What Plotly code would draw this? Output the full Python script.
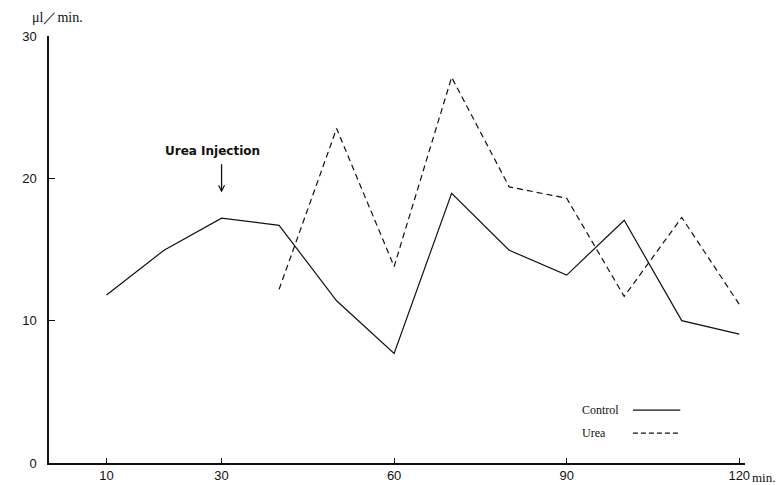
import plotly.graph_objects as go

minutes_control = [10, 20, 30, 40, 50, 60, 70, 80, 90, 100, 110, 120]
control = [11.8, 14.95, 17.2, 16.7, 11.4, 7.7, 18.95, 14.95, 13.2, 17.05, 10.0, 9.05]

minutes_urea = [40, 50, 60, 70, 80, 90, 100, 110, 120]
urea = [12.2, 23.5, 13.8, 27.1, 19.4, 18.6, 11.7, 17.25, 11.15]

x_tickvals = [10, 30, 60, 90, 120]
x_ticktext = ["10", "30", "60", "90", "120"]
y_tickvals = [0, 10, 20, 30]

ink = "#111111"

fig = go.Figure()
fig.add_trace(go.Scatter(x=minutes_control, y=control, mode="lines",
                         line=dict(color=ink, width=1.2), name="Control",
                         showlegend=False))
fig.add_trace(go.Scatter(x=minutes_urea, y=urea, mode="lines",
                         line=dict(color=ink, width=1.2, dash="6px,4px"),
                         name="Urea", showlegend=False))

fig.update_layout(
    width=781, height=485,
    margin=dict(l=49, r=36, t=36, b=22),
    plot_bgcolor="white", paper_bgcolor="white",
    font=dict(family="Liberation Sans", size=12, color=ink),
    xaxis=dict(range=[0, 121], tickvals=x_tickvals, ticktext=x_ticktext,
               showgrid=False, zeroline=False, showline=True, linecolor=ink,
               linewidth=1.5, ticks="inside", ticklen=5, tickcolor=ink,
               automargin=False,
               tickfont=dict(family="Liberation Sans", size=13)),
    yaxis=dict(range=[0, 30], tickvals=y_tickvals, showgrid=False,
               zeroline=False, showline=True, linecolor=ink, linewidth=1.5,
               ticks="inside", ticklen=6, tickcolor=ink, automargin=False,
               ticklabelstandoff=8,
               tickfont=dict(family="Liberation Sans", size=13)),
)

# axis unit labels
fig.add_annotation(x=0, y=1, xref="paper", yref="paper", xshift=-19, yshift=19,
                   text="\u03bcl\uff0fmin.", showarrow=False, xanchor="left",
                   yanchor="middle", font=dict(family="Liberation Serif", size=14))
fig.add_annotation(x=120, y=0, xref="x", yref="paper", xshift=11, yshift=-14,
                   text="min.", showarrow=False, xanchor="left", yanchor="middle",
                   font=dict(family="Liberation Serif", size=13))

# injection marker
fig.add_annotation(x=30, y=19.0, xref="x", yref="y", ax=30, ay=21.1,
                   axref="x", ayref="y", text="", showarrow=True,
                   arrowhead=5, arrowsize=0.9, arrowwidth=1.3, arrowcolor=ink)
fig.add_annotation(x=30, y=21.9, xref="x", yref="y", xshift=-9,
                   text="<b>Urea Injection</b>", showarrow=False,
                   yanchor="middle",
                   font=dict(family="DejaVu Sans", size=12, color=ink))

# legend
fig.add_annotation(x=0.763, y=0.124, xref="paper", yref="paper",
                   text="Control", showarrow=False, xanchor="left",
                   yanchor="middle",
                   font=dict(family="Liberation Serif", size=12))
fig.add_annotation(x=0.763, y=0.070, xref="paper", yref="paper",
                   text="Urea", showarrow=False, xanchor="left",
                   yanchor="middle",
                   font=dict(family="Liberation Serif", size=12))
fig.add_shape(type="line", xref="paper", yref="paper", x0=0.839, x1=0.907,
              y0=0.124, y1=0.124, line=dict(color=ink, width=1.2))
fig.add_shape(type="line", xref="paper", yref="paper", x0=0.839, x1=0.907,
              y0=0.070, y1=0.070, line=dict(color=ink, width=1.2, dash="5px,3px"))

fig.write_html("out.html", config={"displayModeBar": False},
               post_script="document.body.style.margin='0';")
